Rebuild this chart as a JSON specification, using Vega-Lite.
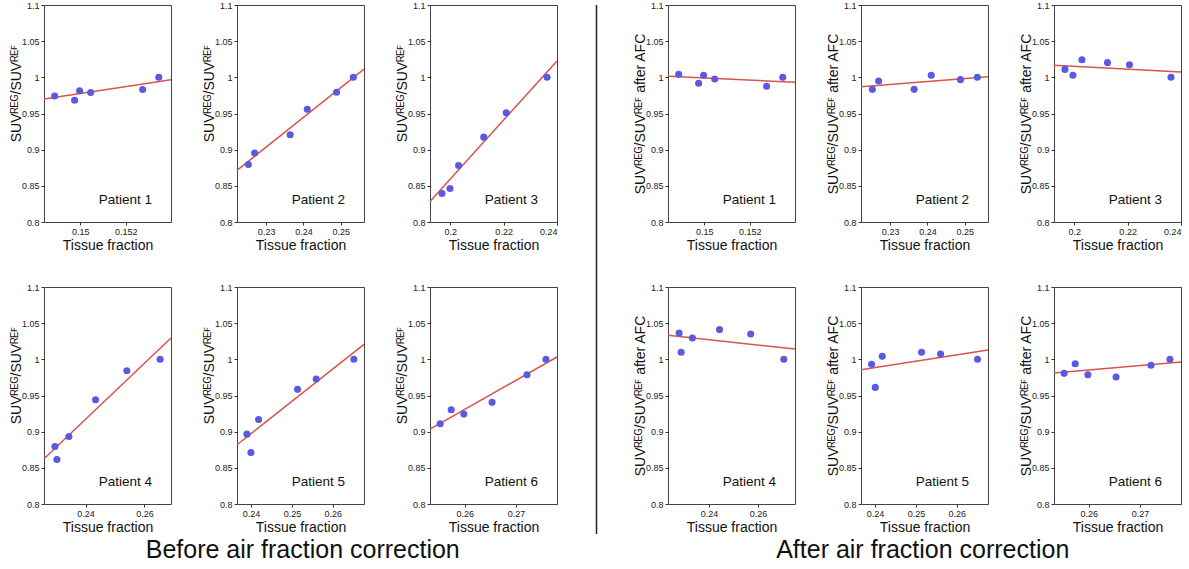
{
  "$schema": "https://vega.github.io/schema/vega-lite/v6.json",
  "padding": {"left": 8, "top": 0, "right": 0, "bottom": 0},
  "background": "white",
  "datasets": {
    "pts": [
      {"s":"B","p":1,"k":"o","tf":0.14887,"v":0.9741},{"s":"B","p":1,"k":"o","tf":0.14975,"v":0.9682},{"s":"B","p":1,"k":"o","tf":0.14997,"v":0.9814},{"s":"B","p":1,"k":"o","tf":0.15046,"v":0.9791},{"s":"B","p":1,"k":"o","tf":0.15275,"v":0.9832},{"s":"B","p":1,"k":"o","tf":0.15346,"v":1.0},
      {"s":"B","p":1,"k":"f","tf":0.1484,"v":0.970},{"s":"B","p":1,"k":"f","tf":0.1540,"v":0.9965,"lab":"Patient 1"},
      {"s":"B","p":2,"k":"o","tf":0.22524,"v":0.8795},{"s":"B","p":2,"k":"o","tf":0.22692,"v":0.8955},{"s":"B","p":2,"k":"o","tf":0.23643,"v":0.9205},{"s":"B","p":2,"k":"o","tf":0.24101,"v":0.9559},{"s":"B","p":2,"k":"o","tf":0.24885,"v":0.9795},{"s":"B","p":2,"k":"o","tf":0.25335,"v":1.0},
      {"s":"B","p":2,"k":"f","tf":0.2222,"v":0.8714},{"s":"B","p":2,"k":"f","tf":0.2562,"v":1.0114,"lab":"Patient 2"},
      {"s":"B","p":3,"k":"o","tf":0.19689,"v":0.8395},{"s":"B","p":3,"k":"o","tf":0.19988,"v":0.8464},{"s":"B","p":3,"k":"o","tf":0.20311,"v":0.8782},{"s":"B","p":3,"k":"o","tf":0.21255,"v":0.9173},{"s":"B","p":3,"k":"o","tf":0.22099,"v":0.9509},{"s":"B","p":3,"k":"o","tf":0.23627,"v":1.0},
      {"s":"B","p":3,"k":"f","tf":0.1924,"v":0.8282},{"s":"B","p":3,"k":"f","tf":0.2400,"v":1.0227,"lab":"Patient 3"},
      {"s":"B","p":4,"k":"o","tf":0.2296,"v":0.8796},{"s":"B","p":4,"k":"o","tf":0.23028,"v":0.8616},{"s":"B","p":4,"k":"o","tf":0.23435,"v":0.8934},{"s":"B","p":4,"k":"o","tf":0.24339,"v":0.9442},{"s":"B","p":4,"k":"o","tf":0.25401,"v":0.9843},{"s":"B","p":4,"k":"o","tf":0.26531,"v":1.0},
      {"s":"B","p":4,"k":"f","tf":0.2259,"v":0.8625},{"s":"B","p":4,"k":"f","tf":0.2690,"v":1.0295,"lab":"Patient 4"},
      {"s":"B","p":5,"k":"o","tf":0.23902,"v":0.8966},{"s":"B","p":5,"k":"o","tf":0.2400,"v":0.8713},{"s":"B","p":5,"k":"o","tf":0.24187,"v":0.9169},{"s":"B","p":5,"k":"o","tf":0.25138,"v":0.9585},{"s":"B","p":5,"k":"o","tf":0.25593,"v":0.9728},{"s":"B","p":5,"k":"o","tf":0.26512,"v":1.0},
      {"s":"B","p":5,"k":"f","tf":0.2366,"v":0.8819},{"s":"B","p":5,"k":"f","tf":0.2676,"v":1.0208,"lab":"Patient 5"},
      {"s":"B","p":6,"k":"o","tf":0.25519,"v":0.9109},{"s":"B","p":6,"k":"o","tf":0.25734,"v":0.9303},{"s":"B","p":6,"k":"o","tf":0.25981,"v":0.9243},{"s":"B","p":6,"k":"o","tf":0.26532,"v":0.9405},{"s":"B","p":6,"k":"o","tf":0.27214,"v":0.9788},{"s":"B","p":6,"k":"o","tf":0.27584,"v":1.0},
      {"s":"B","p":6,"k":"f","tf":0.2532,"v":0.9036},{"s":"B","p":6,"k":"f","tf":0.2780,"v":1.0032,"lab":"Patient 6"},
      {"s":"A","p":1,"k":"o","tf":0.14887,"v":1.0041},{"s":"A","p":1,"k":"o","tf":0.14975,"v":0.9917},{"s":"A","p":1,"k":"o","tf":0.14997,"v":1.0028},{"s":"A","p":1,"k":"o","tf":0.15046,"v":0.9977},{"s":"A","p":1,"k":"o","tf":0.15275,"v":0.9876},{"s":"A","p":1,"k":"o","tf":0.15346,"v":1.0},
      {"s":"A","p":1,"k":"f","tf":0.1484,"v":1.0014},{"s":"A","p":1,"k":"f","tf":0.1540,"v":0.9931,"lab":"Patient 1"},
      {"s":"A","p":2,"k":"o","tf":0.22524,"v":0.9834},{"s":"A","p":2,"k":"o","tf":0.22692,"v":0.9949},{"s":"A","p":2,"k":"o","tf":0.23643,"v":0.9834},{"s":"A","p":2,"k":"o","tf":0.24101,"v":1.0028},{"s":"A","p":2,"k":"o","tf":0.24885,"v":0.9968},{"s":"A","p":2,"k":"o","tf":0.25335,"v":1.0},
      {"s":"A","p":2,"k":"f","tf":0.2222,"v":0.9871},{"s":"A","p":2,"k":"f","tf":0.2562,"v":1.0009,"lab":"Patient 2"},
      {"s":"A","p":3,"k":"o","tf":0.19651,"v":1.011},{"s":"A","p":3,"k":"o","tf":0.1995,"v":1.0028},{"s":"A","p":3,"k":"o","tf":0.20287,"v":1.0244},{"s":"A","p":3,"k":"o","tf":0.21246,"v":1.0203},{"s":"A","p":3,"k":"o","tf":0.22069,"v":1.0175},{"s":"A","p":3,"k":"o","tf":0.23626,"v":1.0},
      {"s":"A","p":3,"k":"f","tf":0.1924,"v":1.0166},{"s":"A","p":3,"k":"f","tf":0.2400,"v":1.0074,"lab":"Patient 3"},
      {"s":"A","p":4,"k":"o","tf":0.22784,"v":1.0365},{"s":"A","p":4,"k":"o","tf":0.22865,"v":1.0097},{"s":"A","p":4,"k":"o","tf":0.23324,"v":1.0295},{"s":"A","p":4,"k":"o","tf":0.24432,"v":1.0411},{"s":"A","p":4,"k":"o","tf":0.25703,"v":1.0351},{"s":"A","p":4,"k":"o","tf":0.27054,"v":1.0},
      {"s":"A","p":4,"k":"f","tf":0.2233,"v":1.0332},{"s":"A","p":4,"k":"f","tf":0.2751,"v":1.0143,"lab":"Patient 4"},
      {"s":"A","p":5,"k":"o","tf":0.23919,"v":0.9931},{"s":"A","p":5,"k":"o","tf":0.24008,"v":0.9612},{"s":"A","p":5,"k":"o","tf":0.24179,"v":1.0042},{"s":"A","p":5,"k":"o","tf":0.25138,"v":1.0097},{"s":"A","p":5,"k":"o","tf":0.25602,"v":1.0074},{"s":"A","p":5,"k":"o","tf":0.26504,"v":1.0},
      {"s":"A","p":5,"k":"f","tf":0.2366,"v":0.9857},{"s":"A","p":5,"k":"f","tf":0.2676,"v":1.0129,"lab":"Patient 5"},
      {"s":"A","p":6,"k":"o","tf":0.25519,"v":0.9806},{"s":"A","p":6,"k":"o","tf":0.25734,"v":0.994},{"s":"A","p":6,"k":"o","tf":0.25981,"v":0.9788},{"s":"A","p":6,"k":"o","tf":0.26532,"v":0.9755},{"s":"A","p":6,"k":"o","tf":0.27214,"v":0.9917},{"s":"A","p":6,"k":"o","tf":0.27584,"v":1.0},
      {"s":"A","p":6,"k":"f","tf":0.2532,"v":0.9811},{"s":"A","p":6,"k":"f","tf":0.2780,"v":0.9963,"lab":"Patient 6"}
    ]
  },
  "data": {"name": "pts"},
  "config": {
    "font": "Liberation Sans",
    "view": {"stroke": "#444", "strokeWidth": 1},
    "axis": {"grid": false, "domain": false, "tickSize": 3, "tickColor": "#333", "labelFontSize": 9, "labelColor": "#222", "titleFontSize": 14, "titleFontWeight": "normal", "titleColor": "#111", "labelPadding": 2, "titlePadding": 2},
    "line": {"color": "#d9534f", "strokeWidth": 1.5},
    "circle": {"color": "#5a5ae0", "opacity": 1, "size": 50}
  },
  "spacing": 34,
  "hconcat": [
    {
      "columns": 3,
      "spacing": {"row": 65, "column": 66},
      "bounds": "flush",
      "title": {"text": "Before air fraction correction", "orient": "bottom", "fontSize": 25, "fontWeight": "normal", "anchor": "middle", "offset": 3, "dx": 18, "color": "#111"},
      "concat": [
        {"width":127,"height":217,"transform":[{"filter":"datum.s==='B' && datum.p===1"}],
         "encoding":{"x":{"field":"tf","type":"quantitative","scale":{"domain":[0.1484,0.1540],"nice":false,"zero":false},"axis":{"values":[0.15,0.152],"format":"~g","title":"Tissue fraction"}},
                     "y":{"field":"v","type":"quantitative","scale":{"domain":[0.8,1.1],"nice":false,"zero":false},"axis":{"values":[0.8,0.85,0.9,0.95,1,1.05,1.1],"format":"~g","title":"SUVᴿᴱᴳ/SUVᴿᴱꟳ","titlePadding":-2,"titleY":88}}},
         "layer":[{"transform":[{"filter":"datum.k==='f'"}],"mark":"line"},{"transform":[{"filter":"datum.k==='o'"}],"mark":"circle"},{"transform":[{"filter":"datum.lab"}],"mark":{"type":"text","fontSize":13.5,"align":"right","baseline":"middle","color":"#111"},"encoding":{"x":{"datum":0.15316,"type":"quantitative"},"y":{"datum":0.83,"type":"quantitative"},"text":{"field":"lab","type":"nominal"}}}]},
        {"width":127,"height":217,"transform":[{"filter":"datum.s==='B' && datum.p===2"}],
         "encoding":{"x":{"field":"tf","type":"quantitative","scale":{"domain":[0.2222,0.2562],"nice":false,"zero":false},"axis":{"values":[0.23,0.24,0.25],"format":"~g","title":"Tissue fraction"}},
                     "y":{"field":"v","type":"quantitative","scale":{"domain":[0.8,1.1],"nice":false,"zero":false},"axis":{"values":[0.8,0.85,0.9,0.95,1,1.05,1.1],"format":"~g","title":"SUVᴿᴱᴳ/SUVᴿᴱꟳ","titlePadding":-2,"titleY":88}}},
         "layer":[{"transform":[{"filter":"datum.k==='f'"}],"mark":"line"},{"transform":[{"filter":"datum.k==='o'"}],"mark":"circle"},{"transform":[{"filter":"datum.lab"}],"mark":{"type":"text","fontSize":13.5,"align":"right","baseline":"middle","color":"#111"},"encoding":{"x":{"datum":0.25111,"type":"quantitative"},"y":{"datum":0.83,"type":"quantitative"},"text":{"field":"lab","type":"nominal"}}}]},
        {"width":127,"height":217,"transform":[{"filter":"datum.s==='B' && datum.p===3"}],
         "encoding":{"x":{"field":"tf","type":"quantitative","scale":{"domain":[0.1924,0.2400],"nice":false,"zero":false},"axis":{"values":[0.2,0.22,0.24],"format":"~g","title":"Tissue fraction"}},
                     "y":{"field":"v","type":"quantitative","scale":{"domain":[0.8,1.1],"nice":false,"zero":false},"axis":{"values":[0.8,0.85,0.9,0.95,1,1.05,1.1],"format":"~g","title":"SUVᴿᴱᴳ/SUVᴿᴱꟳ","titlePadding":-2,"titleY":88}}},
         "layer":[{"transform":[{"filter":"datum.k==='f'"}],"mark":"line"},{"transform":[{"filter":"datum.k==='o'"}],"mark":"circle"},{"transform":[{"filter":"datum.lab"}],"mark":{"type":"text","fontSize":13.5,"align":"right","baseline":"middle","color":"#111"},"encoding":{"x":{"datum":0.23288,"type":"quantitative"},"y":{"datum":0.83,"type":"quantitative"},"text":{"field":"lab","type":"nominal"}}}]},
        {"width":127,"height":217,"transform":[{"filter":"datum.s==='B' && datum.p===4"}],
         "encoding":{"x":{"field":"tf","type":"quantitative","scale":{"domain":[0.2259,0.2690],"nice":false,"zero":false},"axis":{"values":[0.24,0.26],"format":"~g","title":"Tissue fraction"}},
                     "y":{"field":"v","type":"quantitative","scale":{"domain":[0.8,1.1],"nice":false,"zero":false},"axis":{"values":[0.8,0.85,0.9,0.95,1,1.05,1.1],"format":"~g","title":"SUVᴿᴱᴳ/SUVᴿᴱꟳ","titlePadding":-2,"titleY":88}}},
         "layer":[{"transform":[{"filter":"datum.k==='f'"}],"mark":"line"},{"transform":[{"filter":"datum.k==='o'"}],"mark":"circle"},{"transform":[{"filter":"datum.lab"}],"mark":{"type":"text","fontSize":13.5,"align":"right","baseline":"middle","color":"#111"},"encoding":{"x":{"datum":0.26255,"type":"quantitative"},"y":{"datum":0.83,"type":"quantitative"},"text":{"field":"lab","type":"nominal"}}}]},
        {"width":127,"height":217,"transform":[{"filter":"datum.s==='B' && datum.p===5"}],
         "encoding":{"x":{"field":"tf","type":"quantitative","scale":{"domain":[0.2366,0.2676],"nice":false,"zero":false},"axis":{"values":[0.24,0.25,0.26],"format":"~g","title":"Tissue fraction"}},
                     "y":{"field":"v","type":"quantitative","scale":{"domain":[0.8,1.1],"nice":false,"zero":false},"axis":{"values":[0.8,0.85,0.9,0.95,1,1.05,1.1],"format":"~g","title":"SUVᴿᴱᴳ/SUVᴿᴱꟳ","titlePadding":-2,"titleY":88}}},
         "layer":[{"transform":[{"filter":"datum.k==='f'"}],"mark":"line"},{"transform":[{"filter":"datum.k==='o'"}],"mark":"circle"},{"transform":[{"filter":"datum.lab"}],"mark":{"type":"text","fontSize":13.5,"align":"right","baseline":"middle","color":"#111"},"encoding":{"x":{"datum":0.26296,"type":"quantitative"},"y":{"datum":0.83,"type":"quantitative"},"text":{"field":"lab","type":"nominal"}}}]},
        {"width":127,"height":217,"transform":[{"filter":"datum.s==='B' && datum.p===6"}],
         "encoding":{"x":{"field":"tf","type":"quantitative","scale":{"domain":[0.2532,0.2780],"nice":false,"zero":false},"axis":{"values":[0.26,0.27],"format":"~g","title":"Tissue fraction"}},
                     "y":{"field":"v","type":"quantitative","scale":{"domain":[0.8,1.1],"nice":false,"zero":false},"axis":{"values":[0.8,0.85,0.9,0.95,1,1.05,1.1],"format":"~g","title":"SUVᴿᴱᴳ/SUVᴿᴱꟳ","titlePadding":-2,"titleY":88}}},
         "layer":[{"transform":[{"filter":"datum.k==='f'"}],"mark":"line"},{"transform":[{"filter":"datum.k==='o'"}],"mark":"circle"},{"transform":[{"filter":"datum.lab"}],"mark":{"type":"text","fontSize":13.5,"align":"right","baseline":"middle","color":"#111"},"encoding":{"x":{"datum":0.27429,"type":"quantitative"},"y":{"datum":0.83,"type":"quantitative"},"text":{"field":"lab","type":"nominal"}}}]}
      ]
    },
    {
      "width": 1,
      "height": 529,
      "data": {"values": [{}]},
      "view": {"stroke": null},
      "mark": {"type": "rule", "color": "#222", "strokeWidth": 1.5},
      "encoding": {"y": {"datum": 0, "type": "quantitative", "scale": {"domain": [0, 1]}, "axis": null}, "y2": {"datum": 1}}
    },
    {
      "columns": 3,
      "spacing": {"row": 65, "column": 66},
      "bounds": "flush",
      "title": {"text": "After air fraction correction", "orient": "bottom", "fontSize": 25, "fontWeight": "normal", "anchor": "middle", "offset": 3, "dx": 14, "color": "#111"},
      "concat": [
        {"width":127,"height":217,"transform":[{"filter":"datum.s==='A' && datum.p===1"}],
         "encoding":{"x":{"field":"tf","type":"quantitative","scale":{"domain":[0.1484,0.1540],"nice":false,"zero":false},"axis":{"values":[0.15,0.152],"format":"~g","title":"Tissue fraction"}},
                     "y":{"field":"v","type":"quantitative","scale":{"domain":[0.8,1.1],"nice":false,"zero":false},"axis":{"values":[0.8,0.85,0.9,0.95,1,1.05,1.1],"format":"~g","title":"SUVᴿᴱᴳ/SUVᴿᴱꟳ after AFC","titlePadding":-2}}},
         "layer":[{"transform":[{"filter":"datum.k==='f'"}],"mark":"line"},{"transform":[{"filter":"datum.k==='o'"}],"mark":"circle"},{"transform":[{"filter":"datum.lab"}],"mark":{"type":"text","fontSize":13.5,"align":"right","baseline":"middle","color":"#111"},"encoding":{"x":{"datum":0.15316,"type":"quantitative"},"y":{"datum":0.83,"type":"quantitative"},"text":{"field":"lab","type":"nominal"}}}]},
        {"width":127,"height":217,"transform":[{"filter":"datum.s==='A' && datum.p===2"}],
         "encoding":{"x":{"field":"tf","type":"quantitative","scale":{"domain":[0.2222,0.2562],"nice":false,"zero":false},"axis":{"values":[0.23,0.24,0.25],"format":"~g","title":"Tissue fraction"}},
                     "y":{"field":"v","type":"quantitative","scale":{"domain":[0.8,1.1],"nice":false,"zero":false},"axis":{"values":[0.8,0.85,0.9,0.95,1,1.05,1.1],"format":"~g","title":"SUVᴿᴱᴳ/SUVᴿᴱꟳ after AFC","titlePadding":-2}}},
         "layer":[{"transform":[{"filter":"datum.k==='f'"}],"mark":"line"},{"transform":[{"filter":"datum.k==='o'"}],"mark":"circle"},{"transform":[{"filter":"datum.lab"}],"mark":{"type":"text","fontSize":13.5,"align":"right","baseline":"middle","color":"#111"},"encoding":{"x":{"datum":0.25111,"type":"quantitative"},"y":{"datum":0.83,"type":"quantitative"},"text":{"field":"lab","type":"nominal"}}}]},
        {"width":127,"height":217,"transform":[{"filter":"datum.s==='A' && datum.p===3"}],
         "encoding":{"x":{"field":"tf","type":"quantitative","scale":{"domain":[0.1924,0.2400],"nice":false,"zero":false},"axis":{"values":[0.2,0.22,0.24],"format":"~g","title":"Tissue fraction"}},
                     "y":{"field":"v","type":"quantitative","scale":{"domain":[0.8,1.1],"nice":false,"zero":false},"axis":{"values":[0.8,0.85,0.9,0.95,1,1.05,1.1],"format":"~g","title":"SUVᴿᴱᴳ/SUVᴿᴱꟳ after AFC","titlePadding":-2}}},
         "layer":[{"transform":[{"filter":"datum.k==='f'"}],"mark":"line"},{"transform":[{"filter":"datum.k==='o'"}],"mark":"circle"},{"transform":[{"filter":"datum.lab"}],"mark":{"type":"text","fontSize":13.5,"align":"right","baseline":"middle","color":"#111"},"encoding":{"x":{"datum":0.23288,"type":"quantitative"},"y":{"datum":0.83,"type":"quantitative"},"text":{"field":"lab","type":"nominal"}}}]},
        {"width":127,"height":217,"transform":[{"filter":"datum.s==='A' && datum.p===4"}],
         "encoding":{"x":{"field":"tf","type":"quantitative","scale":{"domain":[0.2233,0.2751],"nice":false,"zero":false},"axis":{"values":[0.24,0.26],"format":"~g","title":"Tissue fraction"}},
                     "y":{"field":"v","type":"quantitative","scale":{"domain":[0.8,1.1],"nice":false,"zero":false},"axis":{"values":[0.8,0.85,0.9,0.95,1,1.05,1.1],"format":"~g","title":"SUVᴿᴱᴳ/SUVᴿᴱꟳ after AFC","titlePadding":-2}}},
         "layer":[{"transform":[{"filter":"datum.k==='f'"}],"mark":"line"},{"transform":[{"filter":"datum.k==='o'"}],"mark":"circle"},{"transform":[{"filter":"datum.lab"}],"mark":{"type":"text","fontSize":13.5,"align":"right","baseline":"middle","color":"#111"},"encoding":{"x":{"datum":0.26735,"type":"quantitative"},"y":{"datum":0.83,"type":"quantitative"},"text":{"field":"lab","type":"nominal"}}}]},
        {"width":127,"height":217,"transform":[{"filter":"datum.s==='A' && datum.p===5"}],
         "encoding":{"x":{"field":"tf","type":"quantitative","scale":{"domain":[0.2366,0.2676],"nice":false,"zero":false},"axis":{"values":[0.24,0.25,0.26],"format":"~g","title":"Tissue fraction"}},
                     "y":{"field":"v","type":"quantitative","scale":{"domain":[0.8,1.1],"nice":false,"zero":false},"axis":{"values":[0.8,0.85,0.9,0.95,1,1.05,1.1],"format":"~g","title":"SUVᴿᴱᴳ/SUVᴿᴱꟳ after AFC","titlePadding":-2}}},
         "layer":[{"transform":[{"filter":"datum.k==='f'"}],"mark":"line"},{"transform":[{"filter":"datum.k==='o'"}],"mark":"circle"},{"transform":[{"filter":"datum.lab"}],"mark":{"type":"text","fontSize":13.5,"align":"right","baseline":"middle","color":"#111"},"encoding":{"x":{"datum":0.26296,"type":"quantitative"},"y":{"datum":0.83,"type":"quantitative"},"text":{"field":"lab","type":"nominal"}}}]},
        {"width":127,"height":217,"transform":[{"filter":"datum.s==='A' && datum.p===6"}],
         "encoding":{"x":{"field":"tf","type":"quantitative","scale":{"domain":[0.2532,0.2780],"nice":false,"zero":false},"axis":{"values":[0.26,0.27],"format":"~g","title":"Tissue fraction"}},
                     "y":{"field":"v","type":"quantitative","scale":{"domain":[0.8,1.1],"nice":false,"zero":false},"axis":{"values":[0.8,0.85,0.9,0.95,1,1.05,1.1],"format":"~g","title":"SUVᴿᴱᴳ/SUVᴿᴱꟳ after AFC","titlePadding":-2}}},
         "layer":[{"transform":[{"filter":"datum.k==='f'"}],"mark":"line"},{"transform":[{"filter":"datum.k==='o'"}],"mark":"circle"},{"transform":[{"filter":"datum.lab"}],"mark":{"type":"text","fontSize":13.5,"align":"right","baseline":"middle","color":"#111"},"encoding":{"x":{"datum":0.27429,"type":"quantitative"},"y":{"datum":0.83,"type":"quantitative"},"text":{"field":"lab","type":"nominal"}}}]}
      ]
    }
  ]
}
